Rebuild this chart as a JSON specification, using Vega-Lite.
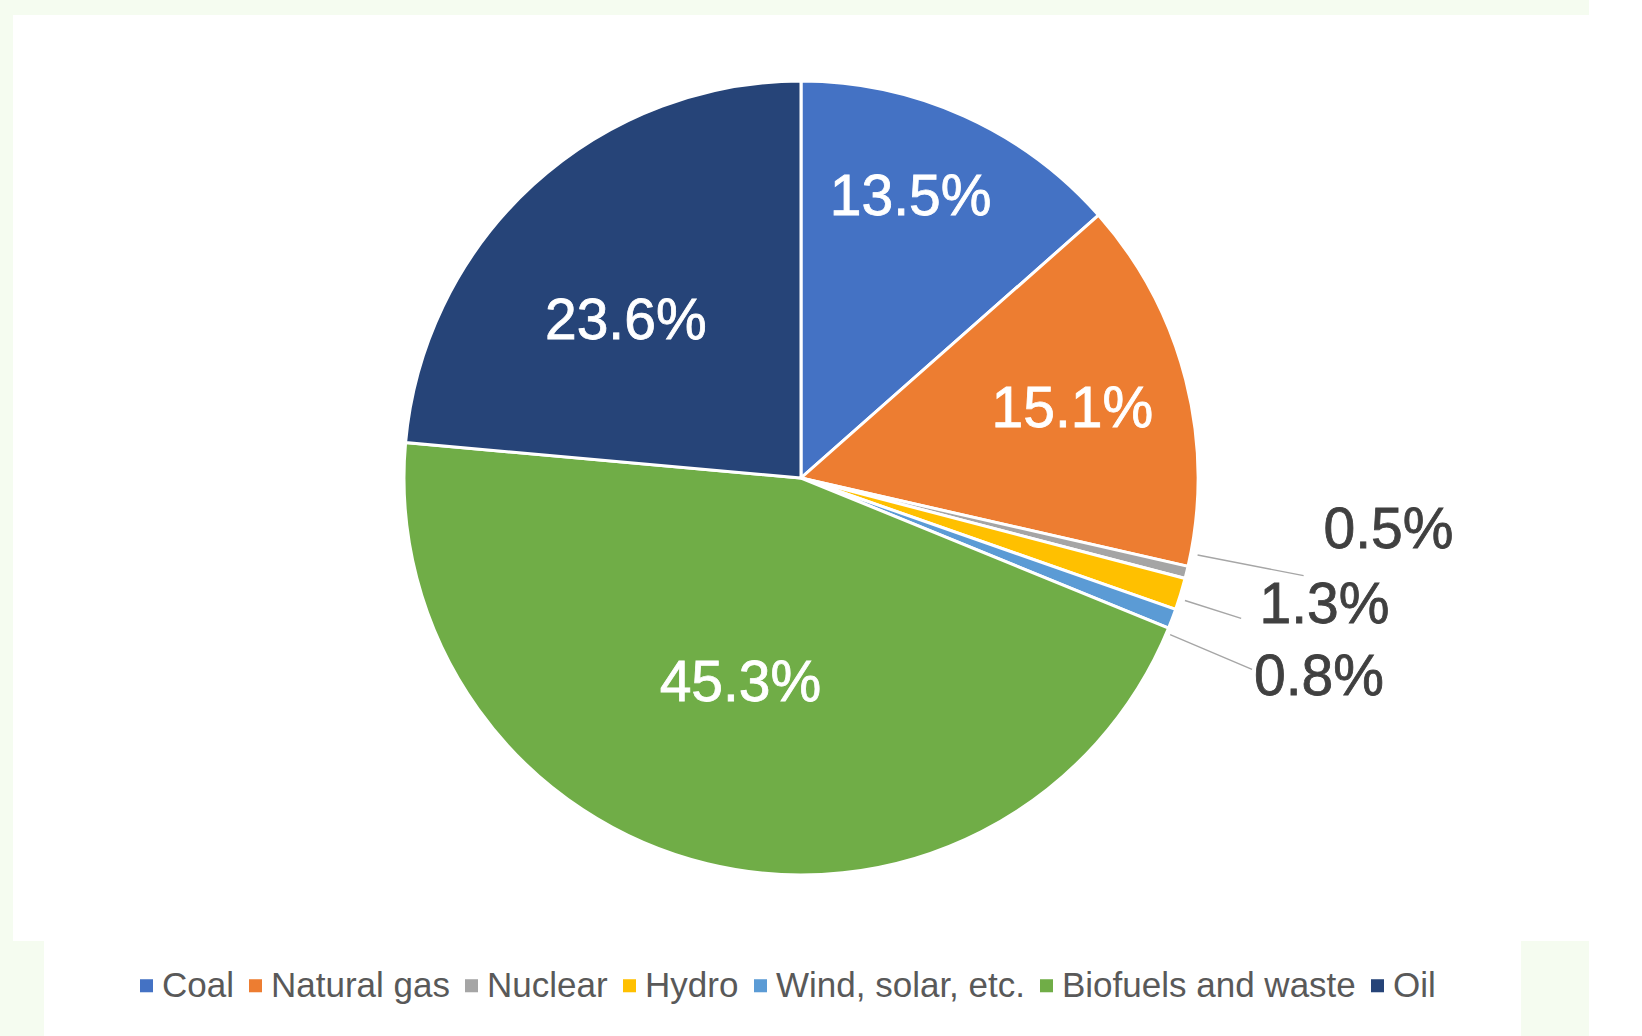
{
  "$schema": "https://vega.github.io/schema/vega-lite/v6.json",
  "width": 1576,
  "height": 926,
  "autosize": {"type": "none"},
  "padding": {"left": 13, "top": 15, "right": 0, "bottom": 95},
  "background": "#F5FCF0",
  "view": {"fill": "#FFFFFF", "stroke": "#FFFFFF", "strokeWidth": 0},
  "data": {
    "values": [
      {"source": "Coal", "share": 0.135},
      {"source": "Natural gas", "share": 0.151},
      {"source": "Nuclear", "share": 0.005},
      {"source": "Hydro", "share": 0.013},
      {"source": "Wind, solar, etc.", "share": 0.008},
      {"source": "Biofuels and waste", "share": 0.453},
      {"source": "Oil", "share": 0.236}
    ]
  },
  "transform": [{"window": [{"op": "row_number", "as": "idx"}]}],
  "encoding": {
    "theta": {"field": "share", "type": "quantitative", "stack": true},
    "order": {"field": "idx", "type": "quantitative"}
  },
  "layer": [
    {
      "mark": {"type": "arc", "outerRadius": 397, "stroke": "white", "strokeWidth": 3},
      "encoding": {
        "color": {
          "field": "source",
          "type": "nominal",
          "scale": {
            "domain": ["Coal", "Natural gas", "Nuclear", "Hydro", "Wind, solar, etc.", "Biofuels and waste", "Oil"],
            "range": ["#4472C4", "#ED7D31", "#A5A5A5", "#FFC000", "#5B9BD5", "#70AD47", "#264478"]
          },
          "legend": {
            "title": null,
            "orient": "none",
            "legendX": 31,
            "legendY": 868,
            "direction": "horizontal",
            "symbolType": "square",
            "symbolSize": 170,
            "symbolStrokeWidth": 0,
            "labelFontSize": 35,
            "labelFont": "Liberation Sans",
            "labelColor": "#595959",
            "labelLimit": 0,
            "labelOffset": -2,
            "columnPadding": 4,
            "padding": 85,
            "fillColor": "#FFFFFF",
            "strokeColor": null
          }
        }
      }
    },
    {
      "mark": {"type": "arc", "innerRadius": 404, "outerRadius": 512, "padAngle": 0.12, "thetaOffset": -0.0482, "theta2Offset": -0.0482, "fillOpacity": 0, "stroke": "#A6A6A6", "strokeWidth": 1.4},
      "encoding": {
        "detail": {"field": "source", "type": "nominal"},
        "strokeOpacity": {"condition": {"test": "datum.source === 'Nuclear'", "value": 1}, "value": 0}
      }
    },
    {
      "mark": {"type": "arc", "innerRadius": 403, "outerRadius": 462, "padAngle": 0.12, "thetaOffset": 0.0122, "theta2Offset": 0.0122, "fillOpacity": 0, "stroke": "#A6A6A6", "strokeWidth": 1.4},
      "encoding": {
        "detail": {"field": "source", "type": "nominal"},
        "strokeOpacity": {"condition": {"test": "datum.source === 'Hydro'", "value": 1}, "value": 0}
      }
    },
    {
      "mark": {"type": "arc", "innerRadius": 401, "outerRadius": 490, "padAngle": 0.12, "thetaOffset": 0.0389, "theta2Offset": 0.0389, "fillOpacity": 0, "stroke": "#A6A6A6", "strokeWidth": 1.4},
      "encoding": {
        "detail": {"field": "source", "type": "nominal"},
        "strokeOpacity": {"condition": {"test": "datum.source === 'Wind, solar, etc.'", "value": 1}, "value": 0}
      }
    },
    {
      "mark": {"type": "text", "radius": 303, "dx": -15, "dy": -4, "fontSize": 57, "font": "Liberation Sans", "fill": "white", "stroke": "white", "strokeWidth": 0.8, "align": "center", "baseline": "middle"},
      "encoding": {
        "detail": {"field": "source", "type": "nominal"},
        "text": {"condition": {"test": "datum.source === 'Coal'", "field": "share", "type": "quantitative", "format": ".1%"}, "value": ""}
      }
    },
    {
      "mark": {"type": "text", "radius": 280, "dy": 1, "fontSize": 57, "font": "Liberation Sans", "fill": "white", "stroke": "white", "strokeWidth": 0.8, "align": "center", "baseline": "middle"},
      "encoding": {
        "detail": {"field": "source", "type": "nominal"},
        "text": {"condition": {"test": "datum.source === 'Natural gas'", "field": "share", "type": "quantitative", "format": ".1%"}, "value": ""}
      }
    },
    {
      "mark": {"type": "text", "radius": 214, "dx": -10, "dy": -2, "fontSize": 57, "font": "Liberation Sans", "fill": "white", "stroke": "white", "strokeWidth": 0.8, "align": "center", "baseline": "middle"},
      "encoding": {
        "detail": {"field": "source", "type": "nominal"},
        "text": {"condition": {"test": "datum.source === 'Biofuels and waste'", "field": "share", "type": "quantitative", "format": ".1%"}, "value": ""}
      }
    },
    {
      "mark": {"type": "text", "radius": 236, "dx": -16, "dy": 18, "fontSize": 57, "font": "Liberation Sans", "fill": "white", "stroke": "white", "strokeWidth": 0.8, "align": "center", "baseline": "middle"},
      "encoding": {
        "detail": {"field": "source", "type": "nominal"},
        "text": {"condition": {"test": "datum.source === 'Oil'", "field": "share", "type": "quantitative", "format": ".1%"}, "value": ""}
      }
    },
    {
      "mark": {"type": "text", "radius": 540, "dx": 63, "dy": -75, "fontSize": 57, "font": "Liberation Sans", "fill": "#404040", "stroke": "#404040", "strokeWidth": 0.8, "align": "center", "baseline": "middle"},
      "encoding": {
        "detail": {"field": "source", "type": "nominal"},
        "text": {"condition": {"test": "datum.source === 'Nuclear'", "field": "share", "type": "quantitative", "format": ".1%"}, "value": ""}
      }
    },
    {
      "mark": {"type": "text", "radius": 540, "dx": 7, "dy": -30, "fontSize": 57, "font": "Liberation Sans", "fill": "#404040", "stroke": "#404040", "strokeWidth": 0.8, "align": "center", "baseline": "middle"},
      "encoding": {
        "detail": {"field": "source", "type": "nominal"},
        "text": {"condition": {"test": "datum.source === 'Hydro'", "field": "share", "type": "quantitative", "format": ".1%"}, "value": ""}
      }
    },
    {
      "mark": {"type": "text", "radius": 540, "dx": 13, "dy": 9, "fontSize": 57, "font": "Liberation Sans", "fill": "#404040", "stroke": "#404040", "strokeWidth": 0.8, "align": "center", "baseline": "middle"},
      "encoding": {
        "detail": {"field": "source", "type": "nominal"},
        "text": {"condition": {"test": "datum.source === 'Wind, solar, etc.'", "field": "share", "type": "quantitative", "format": ".1%"}, "value": ""}
      }
    }
  ]
}
